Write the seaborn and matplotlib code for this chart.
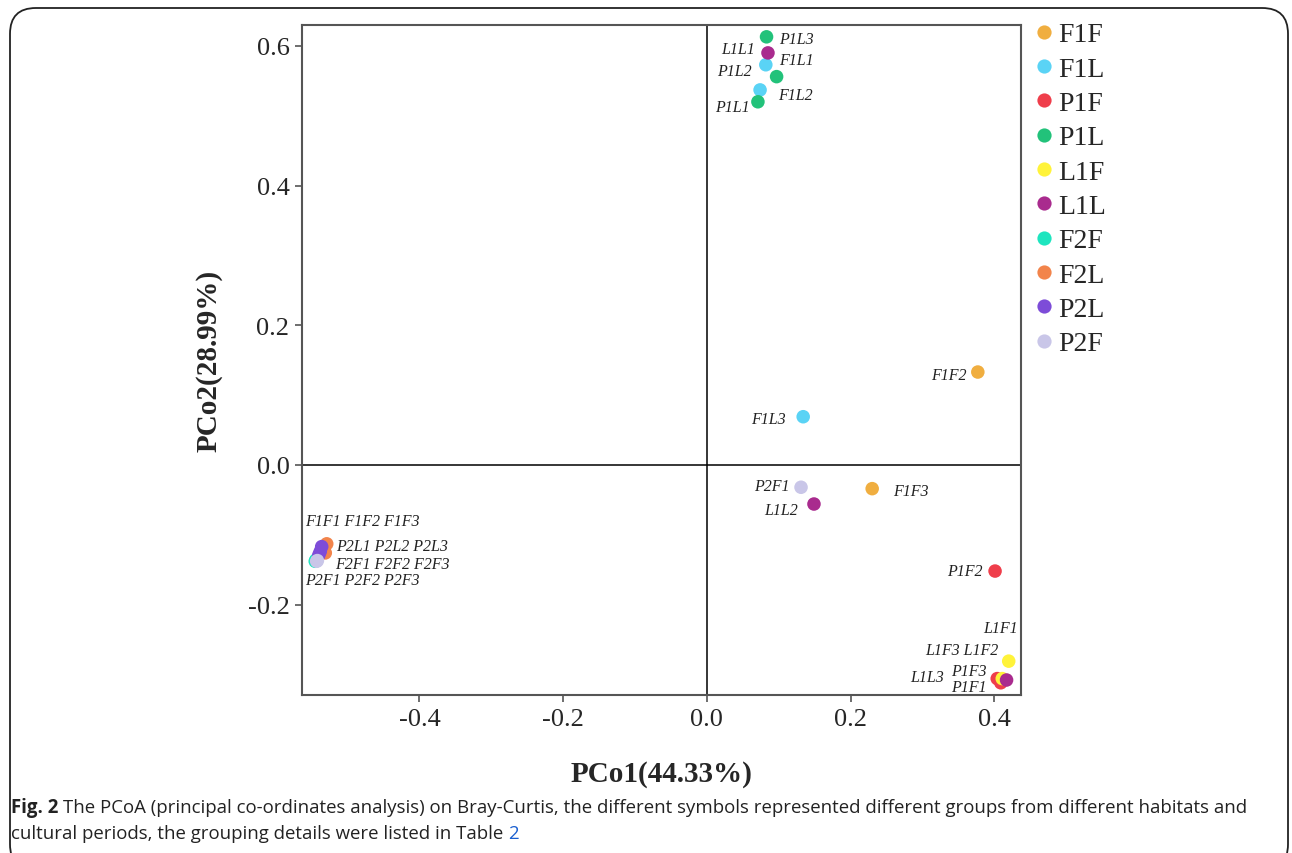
import pandas as pd
import matplotlib.pyplot as plt
import seaborn as sns
from matplotlib.patches import FancyBboxPatch

# group order as in the legend
groups = ['F1F', 'F1L', 'P1F', 'P1L', 'L1F', 'L1L', 'F2F', 'F2L', 'P2L', 'P2F']
colors = ['#F0AE40', '#5AD3F5', '#EF3E4B', '#22C27A', '#FFF33A',
          '#A92B8E', '#1EE5BF', '#F2844B', '#7D4CD8', '#C9C6E8']

# sample coordinates
pco1 = {
    'F1F': [0.377, 0.230],
    'F1L': [0.082, 0.074, 0.134],
    'P1F': [0.401, 0.404, 0.409],
    'P1L': [0.083, 0.097, 0.071],
    'L1F': [0.420, 0.411],
    'L1L': [0.085, 0.149, 0.417],
    'F2F': [-0.545, -0.544],
    'F2L': [-0.529, -0.531, -0.533],
    'P2L': [-0.536, -0.540, -0.538],
    'P2F': [0.131, -0.543, -0.542],
}
pco2 = {
    'F1F': [0.133, -0.034],
    'F1L': [0.573, 0.537, 0.069],
    'P1F': [-0.152, -0.306, -0.312],
    'P1L': [0.613, 0.556, 0.520],
    'L1F': [-0.281, -0.306],
    'L1L': [0.590, -0.056, -0.308],
    'F2F': [-0.138, -0.136],
    'F2L': [-0.113, -0.126, -0.121],
    'P2L': [-0.117, -0.129, -0.124],
    'P2F': [-0.032, -0.138, -0.137],
}

# sample labels: text, x, y, alignment
lab_text = ['P1L3', 'L1L1', 'P1L2', 'F1L1', 'F1L2', 'P1L1', 'F1F2', 'F1L3',
            'P2F1', 'L1L2', 'F1F3', 'P1F2', 'L1F1', 'L1F3 L1F2', 'L1L3',
            'P1F3', 'P1F1', 'F1F1 F1F2 F1F3', 'P2L1 P2L2 P2L3',
            'F2F1 F2F2 F2F3', 'P2F1 P2F2 P2F3']
lab_x = [0.101, 0.067, 0.063, 0.100, 0.099, 0.060, 0.362, 0.110,
         0.115, 0.127, 0.259, 0.384, 0.432, 0.406, 0.330,
         0.389, 0.389, -0.559, -0.516, -0.518, -0.559]
lab_y = [0.610, 0.596, 0.564, 0.580, 0.529, 0.513, 0.129, 0.066,
         -0.030, -0.065, -0.037, -0.152, -0.234, -0.265, -0.304,
         -0.295, -0.318, -0.080, -0.116, -0.142, -0.165]
lab_ha = ['left', 'right', 'right', 'left', 'left', 'right', 'right', 'right',
          'right', 'right', 'left', 'right', 'right', 'right', 'right',
          'right', 'right', 'left', 'left', 'left', 'left']

rows = []
for g in groups:
    for a, b in zip(pco1[g], pco2[g]):
        rows.append({'group': g, 'PCo1': a, 'PCo2': b})
df = pd.DataFrame(rows)

sns.set_style('ticks')
plt.rcParams['font.family'] = ['Liberation Serif', 'DejaVu Serif']
plt.rcParams['axes.unicode_minus'] = False

fig = plt.figure(figsize=(12.92, 8.54), dpi=100)
ax = fig.add_axes([0.2337, 0.185, 0.5565, 0.7846])

sns.scatterplot(data=df, x='PCo1', y='PCo2', hue='group', hue_order=groups,
                palette=colors, s=95, linewidth=0, alpha=1, ax=ax)

ax.axhline(0, color='black', lw=1.1, zorder=0)
ax.axvline(0, color='black', lw=1.1, zorder=0)

for t, x, y, h in zip(lab_text, lab_x, lab_y, lab_ha):
    ax.text(x, y, t, ha=h, va='center', fontsize=11.5, style='italic', color='#222222')

ax.set_xlim(-0.5635, 0.437)
ax.set_ylim(-0.3295, 0.630)
ax.set_xticks([-0.4, -0.2, 0.0, 0.2, 0.4])
ax.set_yticks([-0.2, 0.0, 0.2, 0.4, 0.6])
ax.set_xticklabels(['-0.4', '-0.2', '0.0', '0.2', '0.4'])
ax.set_yticklabels(['-0.2', '0.0', '0.2', '0.4', '0.6'])
ax.tick_params(labelsize=19, length=5, width=1.2, color='#555555', pad=4)
for sp in ax.spines.values():
    sp.set_color('#555555')
    sp.set_linewidth(1.5)

ax.set_xlabel('PCo1(44.33%)', fontsize=21, fontweight='bold', labelpad=22)
ax.set_ylabel('PCo2(28.99%)', fontsize=21, fontweight='bold', labelpad=18)

sns.move_legend(ax, 'upper left', bbox_to_anchor=(1036 / 1292, 1 - 23 / 854),
                bbox_transform=fig.transFigure, frameon=False, title=None,
                fontsize=20, labelspacing=0.32, handletextpad=0.2,
                handlelength=0.6, markerscale=1.05, borderaxespad=0,
                borderpad=0)

# rounded frame around the whole figure panel
frame = FancyBboxPatch((10 / 1292, -0.02), 1278 / 1292, 1 - 9 / 854 + 0.02,
                       boxstyle='round,pad=0,rounding_size=0.02',
                       transform=fig.transFigure, fill=False,
                       edgecolor='#222222', lw=1.3, mutation_aspect=1292 / 854)
fig.patches.append(frame)

cap_font = ['Open Sans', 'DejaVu Sans']
cap_size = 13.4
t1 = fig.text(11 / 1292, 1 - 808 / 854, 'Fig. 2', fontsize=cap_size, fontweight='bold',
              family=cap_font, va='center', color='#222222')
fig.canvas.draw()
bb = t1.get_window_extent()
fig.text((bb.x1 + 5) / 1292, 1 - 808 / 854,
         'The PCoA (principal co-ordinates analysis) on Bray-Curtis, the different symbols '
         'represented different groups from different habitats and',
         fontsize=cap_size, family=cap_font, va='center', color='#222222')
t3 = fig.text(11 / 1292, 1 - 834 / 854,
              'cultural periods, the grouping details were listed in Table ',
              fontsize=cap_size, family=cap_font, va='center', color='#222222')
fig.canvas.draw()
bb3 = t3.get_window_extent()
fig.text(bb3.x1 / 1292, 1 - 834 / 854, '2', fontsize=cap_size, family=cap_font,
         va='center', color='#1A5FD0')

fig.savefig('out.png', dpi=100)
